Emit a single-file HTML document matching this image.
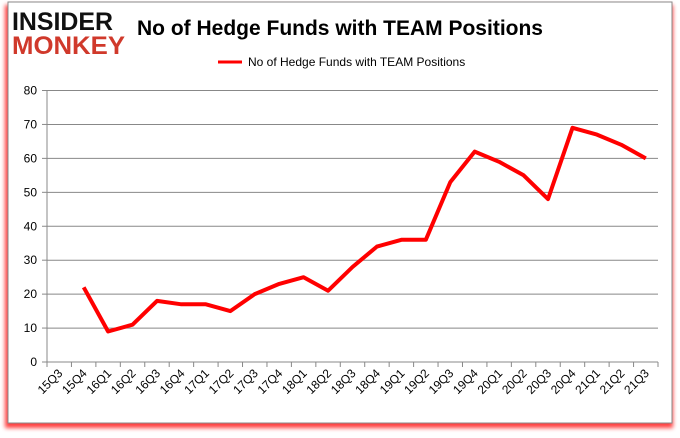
<!DOCTYPE html>
<html><head><meta charset="utf-8"><style>
body{margin:0;width:680px;height:433px;background:#fff;overflow:hidden;font-family:"Liberation Sans",sans-serif}
</style></head><body>
<svg width="680" height="433" xmlns="http://www.w3.org/2000/svg">
<defs><filter id="sh" x="-5%" y="-5%" width="110%" height="110%"><feGaussianBlur stdDeviation="2"/></filter></defs>
<rect x="5" y="5" width="668" height="423" fill="#f00" opacity="0.75" filter="url(#sh)"/>
<rect x="8" y="2" width="664" height="421" fill="#fff" stroke="#888" stroke-width="1"/>
<g font-family="'Liberation Sans',sans-serif" font-weight="bold">
<text x="12" y="30" font-size="25" fill="#111" textLength="101" lengthAdjust="spacingAndGlyphs">INSIDER</text>
<text x="12" y="54" font-size="25" fill="#d0392b" textLength="113" lengthAdjust="spacingAndGlyphs">MONKEY</text>
</g>
<text x="340" y="35" font-size="21" font-weight="bold" text-anchor="middle" fill="#000">No of Hedge Funds with TEAM Positions</text>
<g>
<line x1="218" y1="62" x2="242" y2="62" stroke="#f00" stroke-width="3"/>
<text x="248" y="66" font-size="12" fill="#000">No of Hedge Funds with TEAM Positions</text>
</g>
<g id="grid"></g><g id="axes"></g><g id="series"></g>
</svg>
<script>
const categories=["15Q3","15Q4","16Q1","16Q2","16Q3","16Q4","17Q1","17Q2","17Q3","17Q4","18Q1","18Q2","18Q3","18Q4","19Q1","19Q2","19Q3","19Q4","20Q1","20Q2","20Q3","20Q4","21Q1","21Q2","21Q3"];
const values=[null,22,9,11,18,17,17,15,20,23,25,21,28,34,36,36,53,62,59,55,48,69,67,64,60];
const yTicks=[0,10,20,30,40,50,60,70,80];
const NS="http://www.w3.org/2000/svg";
const X0=47,X1=658,Y0=362,Y1=90.5,YMAX=80;
const bw=(X1-X0)/categories.length;
function xs(i){return X0+bw*(i+0.5);}
function ys(v){return Y0-(v/YMAX)*(Y0-Y1);}
function mk(tag,attrs,parent){const e=document.createElementNS(NS,tag);for(const k in attrs)e.setAttribute(k,attrs[k]);parent.appendChild(e);return e;}
const grid=document.getElementById('grid'),axes=document.getElementById('axes'),series=document.getElementById('series');
yTicks.forEach(t=>{
 const y=ys(t);
 if(t>0){const l=mk('line',{x1:X0,x2:X1,y1:y,y2:y,stroke:'#888','stroke-width':1},grid);
 
 }
 const tk=mk('line',{x1:X0-5,x2:X0,y1:y,y2:y,stroke:'#888'},axes);
 
 
 const tx=mk('text',{x:X0-10,y:y+4,'font-size':12,'text-anchor':'end',fill:'#000'},axes);
 tx.textContent=t;
 
 
});
const ya=mk('line',{x1:X0,x2:X0,y1:Y1,y2:Y0,stroke:'#888'},axes);


const xa=mk('line',{x1:X0,x2:X1,y1:Y0,y2:Y0,stroke:'#888'},axes);


for(let i=0;i<=categories.length;i++){
 const x=X0+bw*i;
 const tk=mk('line',{x1:x,x2:x,y1:Y0,y2:Y0+5,stroke:'#888'},axes);
 
 
}
categories.forEach((c,i)=>{
 const x=xs(i)+4,y=Y0+12;
 const tx=mk('text',{x:x,y:y,'font-size':12,'text-anchor':'end',fill:'#000',transform:`rotate(-45 ${x} ${y})`},axes);
 tx.textContent=c;
 
 
});
let d='';
values.forEach((v,i)=>{if(v==null)return;d+=(d?'L':'M')+xs(i).toFixed(1)+','+ys(v).toFixed(1);});
const p=mk('path',{d:d,fill:'none',stroke:'#f00','stroke-width':4,'stroke-linejoin':'round'},series);


</script>
</body></html>
